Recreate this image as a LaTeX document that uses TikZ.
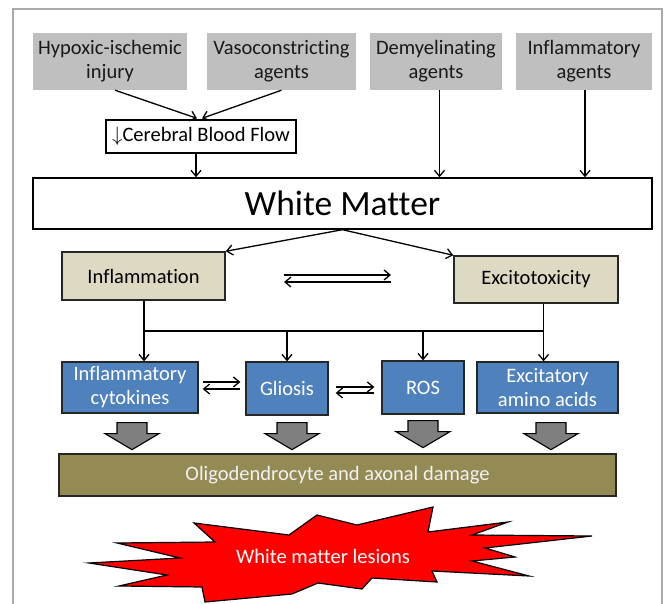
\documentclass[tikz,border=0pt]{standalone}
\usepackage{fontspec}
\setmainfont{Carlito}[Ligatures=NoCommon]
\usetikzlibrary{arrows.meta,calc}
\definecolor{topgray}{HTML}{BFBFBF}
\definecolor{tan}{HTML}{DDD9C3}
\definecolor{boxblue}{HTML}{4F81BD}
\definecolor{olive}{HTML}{948A54}
\definecolor{blkgray}{HTML}{7F7F7F}
\definecolor{framegray}{HTML}{AAAAAA}
\definecolor{lesionred}{HTML}{FF0000}
\tikzset{
  every node/.style={inner sep=0pt, align=center, font=\fontsize{20.5}{24}\selectfont},
  graybox/.style={fill=topgray, text=black!90, minimum height=57pt},
  cbfbox/.style={draw=black, line width=1.3pt, fill=white, minimum width=190pt, minimum height=33pt},
  wmbox/.style={draw=black, line width=1.4pt, fill=white, minimum width=619pt, minimum height=51pt, font=\fontsize{35.5}{40}\selectfont},
  tanbox/.style={draw=black!85, line width=1.4pt, fill=tan, minimum height=48pt},
  bluebox/.style={draw=black!85, line width=1.3pt, fill=boxblue, text=white, minimum height=51pt},
  olivebox/.style={draw=black!85, line width=1.4pt, fill=olive, text=white!95!black, minimum width=557pt, minimum height=42pt},
  arr/.style={line width=1.3pt, -{Straight Barb[length=6pt,width=10pt]}},
  plain/.style={line width=1.3pt},
  blk/.style={draw=black, line width=1.1pt, fill=blkgray},
  blockarrow/.pic={\draw[blk] (-15,0) -- (15,0) -- (15,11) -- (27,11) -- (0,27) -- (-27,11) -- (-15,11) -- cycle;}
}
\begin{document}
\begin{tikzpicture}[x=1pt,y=-1pt]
\useasboundingbox (0,0) rectangle (665,604);
% frame
\draw[framegray, line width=2pt] (13,610) -- (13,9) -- (662,9) -- (662,610);

% top boxes
\node[graybox, minimum width=154pt] (hyp) at (110,61.5) {Hypoxic-ischemic\\injury};
\node[graybox, minimum width=149pt] (vaso) at (281.5,61.5) {Vasoconstricting\\agents};
\node[graybox, minimum width=132pt] (demy) at (436,61.5) {Demyelinating\\agents};
\node[graybox, minimum width=136pt] (infa) at (584,61.5) {Inflammatory\\agents};

\node[cbfbox] (cbf) at (201,136.5) {$\downarrow$Cerebral Blood Flow};
\node[wmbox] (wm) at (342.5,203.5) {White Matter};

\draw[arr] ([xshift=5pt]hyp.south) -- ([xshift=-4pt,yshift=1pt]cbf.north);
\draw[arr] (vaso.south) -- ([xshift=1pt,yshift=1pt]cbf.north);
\draw[arr] ([xshift=-5pt]cbf.south) -- ([xshift=-5pt]cbf.south |- wm.north);
\draw[arr] ([xshift=3.5pt]demy.south) -- ([xshift=3.5pt]demy.south |- wm.north);
\draw[arr] ([xshift=1pt]infa.south) -- ([xshift=1pt]infa.south |- wm.north);

% second level
\node[tanbox, minimum width=163pt] (infl) at (143.5,276) {Inflammation};
\node[tanbox, minimum width=164pt, minimum height=47pt] (exc) at (536,279.5) {Excitotoxicity};

\draw[arr] (wm.south) -- (infl.north east);
\draw[arr] (wm.south) -- (exc.north west);

\coordinate (e1) at (284,275);
\coordinate (e2) at (391,275);
\coordinate (e3) at (391,282);
\coordinate (e4) at (284,282);
\draw[arr] (e1) -- (e2);
\draw[arr] (e3) -- (e4);

% blue boxes
\node[bluebox, minimum width=136pt] (cyt) at (130,387.5) {Inflammatory\\cytokines};
\node[bluebox, minimum width=82pt, minimum height=53pt] (gli) at (287,388.5) {Gliosis};
\node[bluebox, minimum width=82pt, minimum height=53pt] (ros) at (423,387.5) {ROS};
\node[bluebox, minimum width=141pt] (eaa) at (547.5,387.5) {Excitatory\\amino acids};

\coordinate (busL) at (144,331);
\coordinate (busR) at (543.5,331);
\draw[plain] (infl.south -| busL) -- (busL) -- (busR) -- (busR |- exc.south);
\draw[arr] (busL) -- (busL |- cyt.north);
\draw[arr] (gli.north |- busL) -- (gli.north);
\draw[arr] (ros.north |- busL) -- (ros.north);
\draw[arr] (busR) -- (busR |- eaa.north);

\draw[arr] ($(cyt.east)+(4,-5.5)$) -- ($(cyt.east -| gli.west)+(-5,-5.5)$);
\draw[arr] ($(cyt.east -| gli.west)+(-5,1.5)$) -- ($(cyt.east)+(4,1.5)$);
\draw[arr] ($(gli.east)+(7,-1.5)$) -- ($(gli.east -| ros.west)+(-7,-1.5)$);
\draw[arr] ($(gli.east -| ros.west)+(-7,4.5)$) -- ($(gli.east)+(7,4.5)$);

% damage bar and block arrows
\node[olivebox] (olig) at (337.5,475) {Oligodendrocyte and axonal damage};
\pic at ($(cyt.south)+(2,9)$) {blockarrow};
\pic at ($(gli.south)+(5,7)$) {blockarrow};
\pic at ($(ros.south)+(0,6)$) {blockarrow};
\pic at ($(eaa.south)+(3.5,9)$) {blockarrow};

% lesion burst
\draw[draw=black, line width=1.2pt, fill=lesionred, line join=miter]
  (89,563) -- (180,558) -- (117,543) -- (215,542) -- (194,523) -- (289,535)
  -- (317,515) -- (357,525) -- (433,507) -- (428,532) -- (508,522) -- (472,535)
  -- (592,536) -- (485,548) -- (515,557) -- (472,561) -- (529,576) -- (432,571)
  -- (437,582) -- (372,578) -- (362,589) -- (318,583) -- (292,594) -- (205,602)
  -- (202,587) -- (119,586) -- (167,575) -- cycle;
\node[text=white] (wml) at (323,556) {White matter lesions};
\end{tikzpicture}
\end{document}
